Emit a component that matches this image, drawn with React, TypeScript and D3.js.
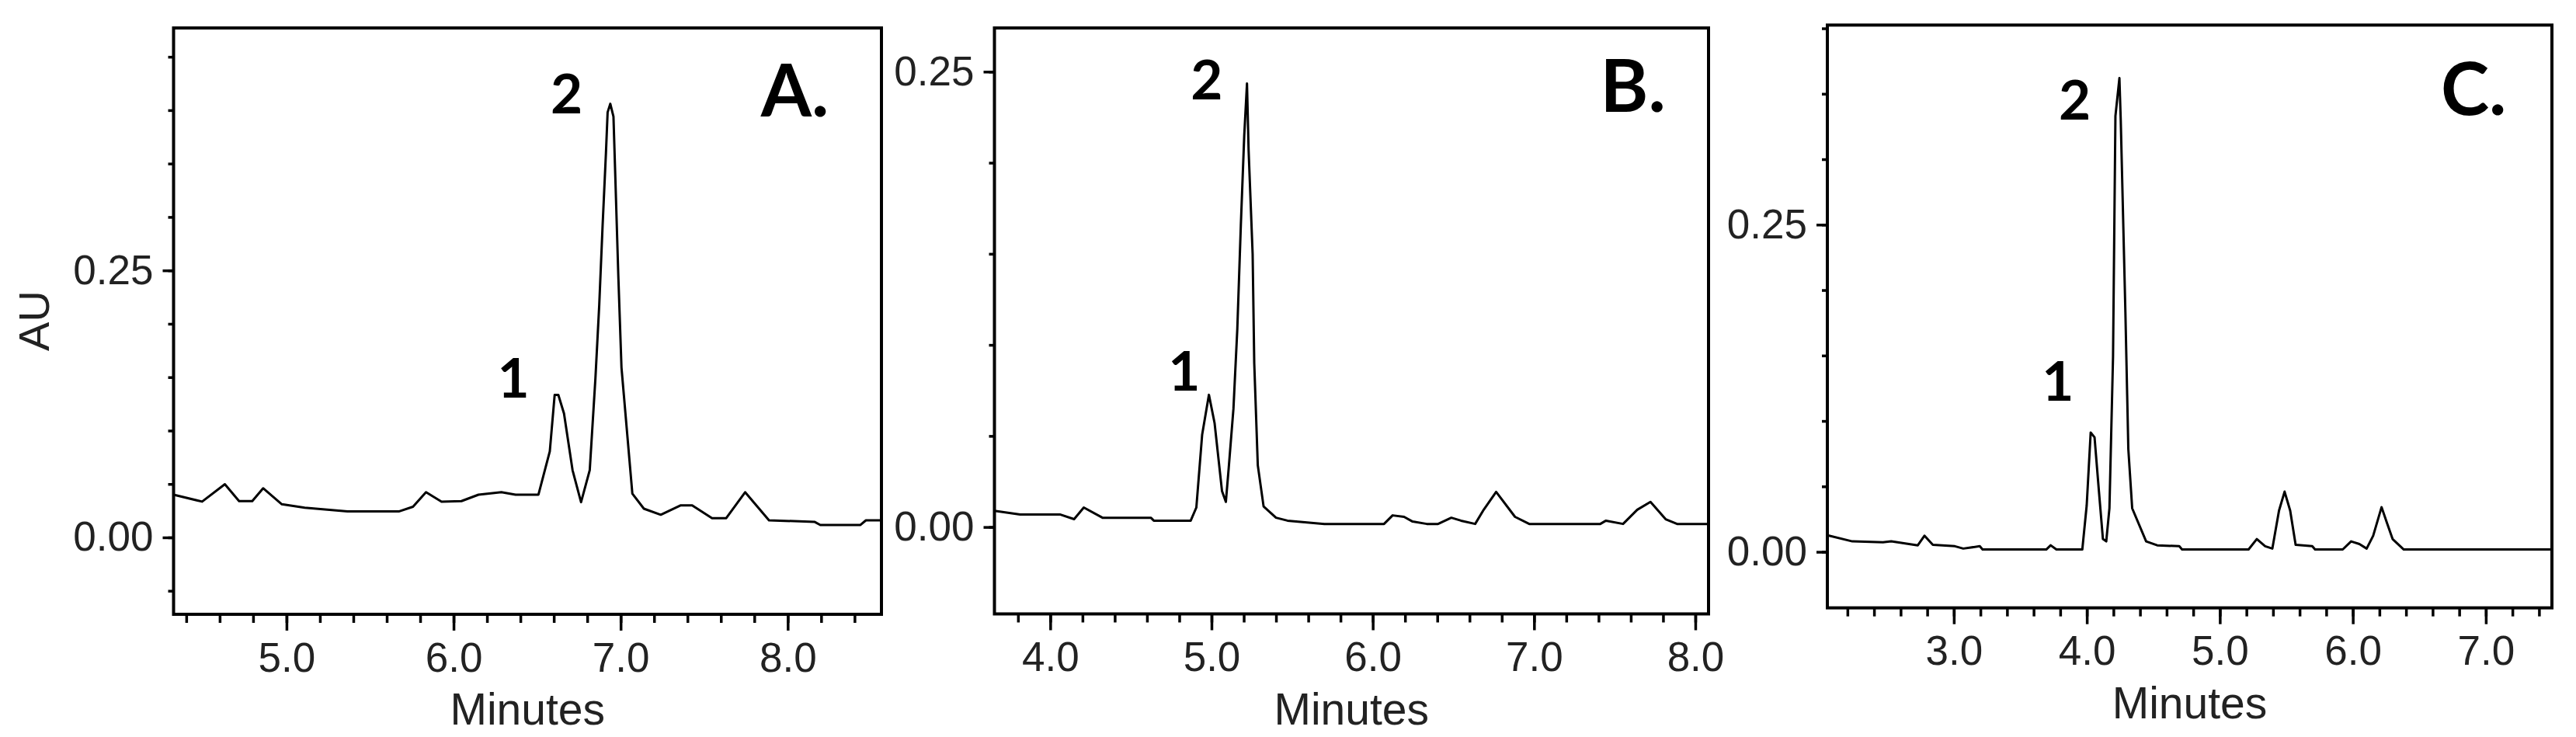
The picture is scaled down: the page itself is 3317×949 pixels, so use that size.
import { useRef, useEffect } from 'react';
import * as d3 from 'd3';

// panel A trace (minutes, AU)
const timesA = [4.324, 4.495, 4.631, 4.716, 4.795, 4.86, 4.972, 5.109, 5.365, 5.672, 5.757, 5.835, 5.928, 6.047, 6.149, 6.286, 6.371, 6.508, 6.576, 6.605, 6.627, 6.661, 6.712, 6.763, 6.815, 6.849, 6.872, 6.892, 6.912, 6.922, 6.938, 6.957, 6.968, 6.986, 7.005, 7.07, 7.139, 7.24, 7.36, 7.428, 7.547, 7.632, 7.745, 7.888, 8.16, 8.195, 8.434, 8.468, 8.561];
const auA = [0.04, 0.0335, 0.0498, 0.034, 0.034, 0.046, 0.031, 0.0278, 0.0243, 0.0243, 0.0287, 0.0423, 0.0335, 0.034, 0.04, 0.0423, 0.04, 0.04, 0.0806, 0.1334, 0.1334, 0.116, 0.063, 0.033, 0.063, 0.149, 0.218, 0.292, 0.36, 0.398, 0.406, 0.394, 0.338, 0.245, 0.159, 0.041, 0.0269, 0.0212, 0.03, 0.03, 0.018, 0.018, 0.0423, 0.016, 0.0146, 0.0116, 0.0116, 0.016, 0.016];

// panel B trace
const timesB = [3.654, 3.813, 4.06, 4.148, 4.208, 4.324, 4.624, 4.642, 4.871, 4.906, 4.942, 4.984, 5.019, 5.065, 5.089, 5.107, 5.136, 5.16, 5.182, 5.203, 5.22, 5.23, 5.255, 5.265, 5.287, 5.323, 5.4, 5.471, 5.7, 6.07, 6.123, 6.194, 6.247, 6.335, 6.405, 6.487, 6.547, 6.635, 6.688, 6.765, 6.882, 6.97, 7.411, 7.446, 7.552, 7.64, 7.722, 7.816, 7.887, 8.082];
const auB = [0.0089, 0.0069, 0.0069, 0.0043, 0.0107, 0.0051, 0.0051, 0.0035, 0.0035, 0.0107, 0.0507, 0.0726, 0.0571, 0.0198, 0.0138, 0.0327, 0.0649, 0.1087, 0.166, 0.215, 0.2435, 0.207, 0.15, 0.09, 0.0339, 0.0113, 0.0051, 0.0035, 0.0017, 0.0017, 0.0064, 0.0056, 0.003, 0.0017, 0.0017, 0.0051, 0.0035, 0.0017, 0.0095, 0.0193, 0.0056, 0.0017, 0.0017, 0.0035, 0.0017, 0.0095, 0.0138, 0.0043, 0.0017, 0.0017];

// panel C trace
const timesC = [2.05, 2.237, 2.467, 2.529, 2.729, 2.779, 2.842, 3.008, 3.071, 3.195, 3.216, 3.695, 3.728, 3.771, 3.966, 3.999, 4.029, 4.058, 4.091, 4.121, 4.146, 4.17, 4.197, 4.215, 4.245, 4.255, 4.29, 4.312, 4.341, 4.446, 4.529, 4.695, 4.716, 5.216, 5.278, 5.341, 5.395, 5.445, 5.487, 5.529, 5.57, 5.695, 5.716, 5.924, 5.987, 6.049, 6.104, 6.153, 6.216, 6.257, 6.299, 6.383, 7.497];
const auC = [0.0127, 0.008, 0.0073, 0.008, 0.005, 0.0123, 0.0054, 0.0043, 0.0025, 0.0043, 0.0018, 0.0018, 0.005, 0.0018, 0.0018, 0.0355, 0.0912, 0.0875, 0.0462, 0.0098, 0.008, 0.0333, 0.149, 0.333, 0.362, 0.33, 0.183, 0.0786, 0.0333, 0.008, 0.005, 0.0043, 0.0018, 0.0018, 0.0098, 0.0043, 0.0025, 0.0315, 0.046, 0.0315, 0.0054, 0.0043, 0.0018, 0.0018, 0.008, 0.006, 0.0025, 0.0123, 0.0341, 0.022, 0.0098, 0.0018, 0.0018];

// labelled ticks
const xLabelsA = [5, 6, 7, 8];
const xLabelsB = [4, 5, 6, 7, 8];
const xLabelsC = [3, 4, 5, 6, 7];
const yLabels = [0, 0.25];

// peak numbers: [label, minutes, AU] (right edge / baseline)
const peaksA = [['1', 6.454, 0.131], ['2', 6.772, 0.397]];
const peaksB = [['1', 4.93, 0.075], ['2', 5.07, 0.2347]];
const peaksC = [['1', 3.903, 0.1156], ['2', 4.03, 0.33]];

const tickFont = '"Liberation Sans", Arial, sans-serif';
const boldFont = 'Lato, "Open Sans", sans-serif';

function Panel({ times, values, xDomain, yDomain, box, xMinor, xMajor, yMinor, yMajor, peaks, letter, letterPos, yTitle }) {
  const gx = useRef(), gxm = useRef(), gy = useRef(), gym = useRef();

  const x = d3.scaleLinear().domain(xDomain).range([box.left, box.right]);
  const y = d3.scaleLinear().domain(yDomain).range([box.bottom, box.top]);

  const line = d3
    .line()
    .x((d) => x(d[0]))
    .y((d) => y(d[1]));
  const pts = times.map((t, i) => [t, values[i]]);

  useEffect(() => {
    const style = (g) => {
      g.select('.domain').remove();
      g.selectAll('.tick line').attr('stroke', '#000').attr('stroke-width', 3.5);
      g.attr('font-family', tickFont).attr('font-size', 53);
      g.selectAll('.tick text').attr('fill', '#222');
    };
    d3.select(gxm.current)
      .call(d3.axisBottom(x).tickValues(xMinor).tickSize(11).tickFormat(() => ''))
      .call(style);
    d3.select(gx.current)
      .call(d3.axisBottom(x).tickValues(xMajor).tickSize(21).tickPadding(15).tickFormat(d3.format('.1f')))
      .call(style);
    d3.select(gym.current)
      .call(d3.axisLeft(y).tickValues(yMinor).tickSize(7).tickFormat(() => ''))
      .call(style);
    d3.select(gy.current)
      .call(d3.axisLeft(y).tickValues(yMajor).tickSize(14).tickPadding(12).tickFormat(d3.format('.2f')))
      .call(style);
  }, []);

  return (
    <g>
      <rect
        x={box.left}
        y={box.top}
        width={box.right - box.left}
        height={box.bottom - box.top}
        fill="none"
        stroke="#000"
        strokeWidth="4"
      />
      <path d={line(pts)} fill="none" stroke="#000" strokeWidth="3" strokeLinejoin="round" />
      <g ref={gxm} transform={`translate(0,${box.bottom})`} />
      <g ref={gx} transform={`translate(0,${box.bottom})`} />
      <g ref={gym} transform={`translate(${box.left},0)`} />
      <g ref={gy} transform={`translate(${box.left},0)`} />
      {peaks.map(([lab, t, v]) => (
        <text key={lab} x={x(t)} y={y(v)} textAnchor="end" fontFamily={boldFont} fontWeight="700" fontSize="71" fill="#000">
          {lab}
        </text>
      ))}
      <text x={x(letterPos[0])} y={y(letterPos[1])} textAnchor="end" fontFamily={boldFont} fontWeight="700" fontSize="94" fill="#000">
        {letter}
      </text>
      <text
        x={(box.left + box.right) / 2}
        y={box.bottom + 142}
        textAnchor="middle"
        fontFamily={tickFont}
        fontSize="57"
        fill="#222"
      >
        Minutes
      </text>
      {yTitle && (
        <text
          transform="translate(63,413) rotate(-90)"
          textAnchor="middle"
          fontFamily={tickFont}
          fontSize="56"
          fill="#222"
        >
          {yTitle}
        </text>
      )}
    </g>
  );
}

export default function App() {
  return (
    <svg
      width={3317}
      height={949}
      style={{ position: 'absolute', left: 0, top: 0, background: '#fff' }}
    >
      <Panel
        times={timesA}
        values={auA}
        xDomain={[4.324, 8.561]}
        yDomain={[-0.072, 0.477]}
        box={{ left: 223.5, right: 1135, top: 36, bottom: 791 }}
        xMinor={d3.range(22, 43).map((i) => i / 5)}
        xMajor={xLabelsA}
        yMinor={d3.range(-1, 10).map((i) => i / 20)}
        yMajor={yLabels}
        peaks={peaksA}
        letter="A."
        letterPos={[8.247, 0.3944]}
        yTitle="AU"
      />
      <Panel
        times={timesB}
        values={auB}
        xDomain={[3.654, 8.082]}
        yDomain={[-0.0477, 0.274]}
        box={{ left: 1280.5, right: 2200, top: 36, bottom: 790.5 }}
        xMinor={d3.range(19, 41).map((i) => i / 5)}
        xMajor={xLabelsB}
        yMinor={d3.range(0, 6).map((i) => i / 20)}
        yMajor={yLabels}
        peaks={peaksB}
        letter="B."
        letterPos={[7.816, 0.228]}
      />
      <Panel
        times={timesC}
        values={auC}
        xDomain={[2.049, 7.497]}
        yDomain={[-0.0428, 0.4025]}
        box={{ left: 2353, right: 3286, top: 32.3, bottom: 782.7 }}
        xMinor={d3.range(11, 38).map((i) => i / 5)}
        xMajor={xLabelsC}
        yMinor={d3.range(0, 9).map((i) => i / 20)}
        yMajor={yLabels}
        peaks={peaksC}
        letter="C."
        letterPos={[7.155, 0.3336]}
      />
    </svg>
  );
}
